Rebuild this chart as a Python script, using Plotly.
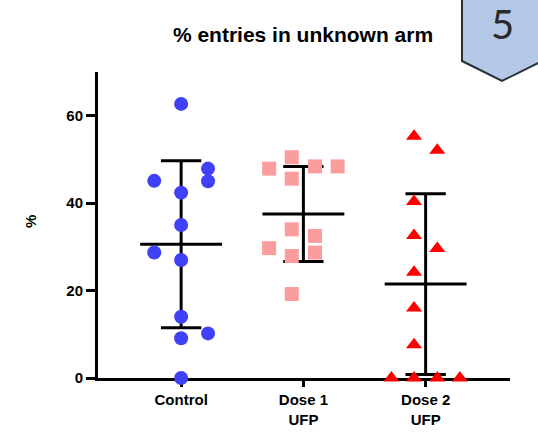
import numpy as np
import plotly.graph_objects as go

# Groups and tick labels
categories = ["Control", "Dose 1<br>UFP", "Dose 2<br>UFP"]

# % entries in unknown arm, per animal
control = [62.7, 47.9, 45.1, 45.0, 42.4, 35.0, 28.7, 27.0, 14.0, 9.1, 10.2, 0.0]
dose1 = [50.5, 47.9, 48.4, 48.4, 45.6, 34.0, 32.5, 29.7, 28.7, 27.9, 19.2]
dose2 = [55.3, 52.1, 40.4, 32.6, 29.6, 24.2, 16.0, 7.6, 0.0, 0.0, 0.0, 0.0]

# Horizontal scatter offsets (category units) so overlapping points stay visible
control_dx = [0, 0.22, -0.22, 0.22, 0, 0, -0.22, 0, 0, 0, 0.22, 0]
dose1_dx = [-0.095, -0.28, 0.095, 0.28, -0.095, -0.095, 0.095, -0.28, 0.095, -0.095, -0.095]
dose2_dx = [-0.095, 0.095, -0.095, -0.095, 0.095, -0.095, -0.095, -0.095,
            -0.28, -0.095, 0.095, 0.28]

groups = [
    (control, control_dx, "circle", "#4040f6"),
    (dose1, dose1_dx, "square", "#fb9d9d"),
    (dose2, dose2_dx, "triangle-up", "#ff0000"),
]

FONT = "Liberation Sans, Arial, sans-serif"
fig = go.Figure()

for i, (vals, dx, sym, col) in enumerate(groups):
    v = np.array(vals)
    m, sd = v.mean(), v.std(ddof=1)
    hw, cw = 0.335, 0.165
    xs = [i - hw, i + hw, None, i, i, None, i - cw, i + cw, None, i - cw, i + cw]
    ys = [m, m, None, m - sd, m + sd, None, m + sd, m + sd, None, m - sd, m - sd]
    fig.add_trace(go.Scatter(x=xs, y=ys, mode="lines",
                             line=dict(color="black", width=3),
                             hoverinfo="skip", showlegend=False, cliponaxis=False))
    fig.add_trace(go.Scatter(x=[i + d for d in dx], y=vals, mode="markers",
                             marker=dict(symbol=sym, size=14, color=col,
                                         line=dict(width=0)),
                             showlegend=False, cliponaxis=False))

fig.update_layout(
    width=538, height=432,
    margin=dict(l=98, r=28, t=72, b=54, autoexpand=False),
    paper_bgcolor="white", plot_bgcolor="white",
    showlegend=False,
    font=dict(family=FONT, color="black"),
    title=dict(text="<b>% entries in unknown arm</b>", x=303 / 538,
               xanchor="center", y=1 - 35 / 432, yanchor="middle",
               automargin=False,
               font=dict(size=21, family=FONT, color="black")),
    xaxis=dict(range=[-0.68, 2.69], tickvals=[0, 1, 2], ticktext=categories,
               showgrid=False, zeroline=False, showline=True, linecolor="black",
               linewidth=3, ticks="outside", ticklen=6, tickwidth=3,
               tickcolor="black", layer="below traces", automargin=False,
               tickfont=dict(size=15, family=FONT, color="black", weight="bold")),
    yaxis=dict(range=[0, 70], tickvals=[0, 20, 40, 60],
               showgrid=False, zeroline=False, showline=True, linecolor="black",
               linewidth=3, ticks="outside", ticklen=9, tickwidth=3,
               tickcolor="black", layer="below traces", automargin=False,
               tickfont=dict(size=15, family=FONT, color="black", weight="bold")),
)

# "%" axis label
fig.add_annotation(text="<b>%</b>", xref="paper", yref="paper",
                   x=(30 - 98) / 412, y=(378 - 222) / 306, textangle=-90,
                   xanchor="center", yanchor="middle",
                   showarrow=False, font=dict(size=15, family=FONT, color="black"))

# Panel badge in the top-right corner
def px(xp):
    return (xp - 98) / 412

def py(yp):
    return (378 - yp) / 306

badge = [(462, -4), (462, 61), (502, 81), (542, 61), (542, -4)]
path = "M " + " L ".join(f"{px(a):.4f},{py(b):.4f}" for a, b in badge) + " Z"
fig.add_shape(type="path", path=path, xref="paper", yref="paper",
              fillcolor="#b4c7e7", line=dict(color="#2a2c36", width=2), layer="above")
fig.add_annotation(text="5", xref="paper", yref="paper", x=px(502), y=py(24),
                   xanchor="center", yanchor="middle",
                   showarrow=False, font=dict(size=40, family="Lato, Open Sans, sans-serif",
                                              color="#2a2a2a"))

fig.write_html("out.html")
